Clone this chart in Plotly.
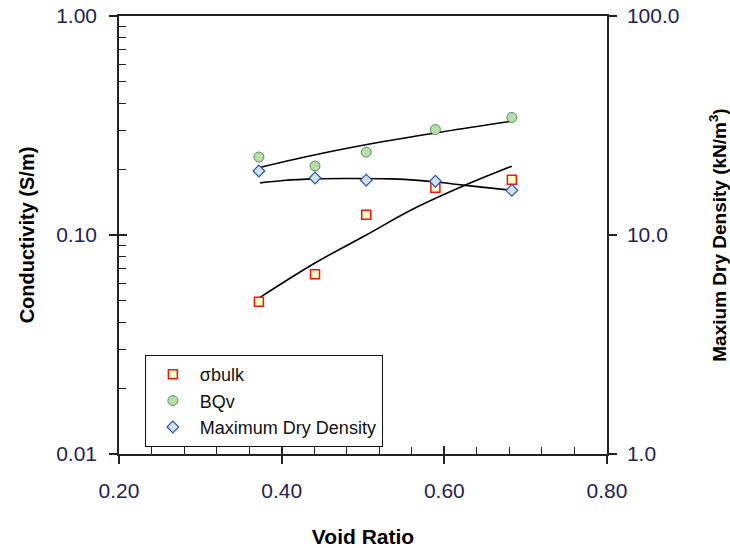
import plotly.graph_objects as go

# ---- data ----
void_ratio = [0.372, 0.441, 0.504, 0.589, 0.683]
sigma_bulk = [0.0496, 0.0662, 0.1237, 0.1644, 0.1788]
bqv = [0.227, 0.2065, 0.239, 0.303, 0.344]
max_dry_density = [19.6, 18.2, 17.8, 17.6, 16.0]

# trend lines
trend_sigma_x = [0.372, 0.441, 0.504, 0.561, 0.626, 0.683]
trend_sigma_y = [0.0515, 0.0745, 0.100, 0.131, 0.169, 0.206]
trend_bqv_x = [0.372, 0.45, 0.52, 0.60, 0.683]
trend_bqv_y = [0.203, 0.236, 0.265, 0.297, 0.331]
trend_mdd_x = [0.3735, 0.402, 0.441, 0.49, 0.532, 0.551, 0.590, 0.626, 0.683]
trend_mdd_y = [17.3, 17.75, 18.05, 18.1, 18.05, 17.95, 17.45, 16.85, 16.0]

x_ticks = [0.2, 0.4, 0.6, 0.8]
x_minor = [0.24, 0.28, 0.32, 0.36, 0.44, 0.48, 0.52, 0.56, 0.64, 0.68, 0.72, 0.76]
y_ticks = [0.01, 0.1, 1.0]
y_minor = [0.02, 0.03, 0.04, 0.05, 0.06, 0.07, 0.08, 0.09,
           0.2, 0.3, 0.4, 0.5, 0.6, 0.7, 0.8, 0.9]
y2_ticks = [1, 10, 100]

FONT = "Liberation Sans, Arial, sans-serif"
TICKCOL = "#23234f"
AXCOL = "#222222"

fig = go.Figure()

# trend lines
for tx, ty, ax in [(trend_sigma_x, trend_sigma_y, "y"),
                   (trend_bqv_x, trend_bqv_y, "y"),
                   (trend_mdd_x, trend_mdd_y, "y2")]:
    fig.add_trace(go.Scatter(x=tx, y=ty, mode="lines", yaxis=ax,
                             line=dict(color="black", width=1.6, shape="spline"),
                             showlegend=False, hoverinfo="skip"))

# markers
fig.add_trace(go.Scatter(x=void_ratio, y=sigma_bulk, mode="markers", name="σbulk",
                         marker=dict(symbol="square", size=9, color="#ffffc4",
                                     line=dict(color="#ff1010", width=1.5))))
fig.add_trace(go.Scatter(x=void_ratio, y=bqv, mode="markers", name="BQv",
                         marker=dict(symbol="circle", size=10, color="#b4e0a8",
                                     line=dict(color="#5b8f5b", width=1))))
fig.add_trace(go.Scatter(x=void_ratio, y=max_dry_density, mode="markers", yaxis="y2",
                         name="Maximum Dry Density",
                         marker=dict(symbol="diamond", size=9, color="#cfe4f8",
                                     line=dict(color="#3050a8", width=1.2))))

# empty helper so the overlay tick axes are drawn
fig.add_trace(go.Scatter(x=[None], y=[None], xaxis="x2", yaxis="y3",
                         showlegend=False, hoverinfo="skip"))

fig.update_layout(
    width=730, height=548,
    margin=dict(l=119, r=123, t=16, b=94),
    paper_bgcolor="white", plot_bgcolor="white",
    font=dict(family=FONT, color=TICKCOL, size=21),
    showlegend=True,
    legend=dict(x=0.053, y=0.226, xanchor="left", yanchor="top",
                bgcolor="white", bordercolor="#111111", borderwidth=1,
                font=dict(family=FONT, size=18, color="#111111"),
                itemwidth=44, tracegroupgap=2),
    xaxis=dict(range=[0.2, 0.8], tickvals=x_ticks, tickformat=".2f",
               showgrid=False, zeroline=False, automargin=False,
               showline=True, linecolor=AXCOL, linewidth=1.5, mirror=True,
               ticks="outside", ticklen=8, tickwidth=1.5, tickcolor=AXCOL,
               ticklabelstandoff=9,
               minor=dict(tickvals=x_minor, ticks="inside", ticklen=7,
                          tickwidth=1.2, tickcolor=AXCOL, showgrid=False),
               title=dict(text="<b>Void Ratio</b>", standoff=28,
                          font=dict(family=FONT, size=21, color="black"))),
    xaxis2=dict(overlaying="x", matches="x", range=[0.2, 0.8], tickvals=x_ticks,
                showticklabels=False, showgrid=False, zeroline=False, showline=False,
                ticks="inside", ticklen=8, tickwidth=1.5, tickcolor=AXCOL,
                anchor="y", automargin=False),
    yaxis=dict(type="log", range=[-2, 0], tickvals=y_ticks, tickformat=".2f",
               showgrid=False, zeroline=False, automargin=False,
               showline=True, linecolor=AXCOL, linewidth=1.5,
               ticks="outside", ticklen=8, tickwidth=1.5, tickcolor=AXCOL,
               ticklabelstandoff=8,
               minor=dict(tickvals=y_minor, ticks="inside", ticklen=7,
                          tickwidth=1.2, tickcolor=AXCOL, showgrid=False),
               title=dict(text="<b>Conductivity (S/m)</b>", standoff=16,
                          font=dict(family=FONT, size=20, color="black"))),
    yaxis3=dict(type="log", range=[-2, 0], overlaying="y", side="left",
                tickvals=y_ticks, showticklabels=False, showgrid=False,
                zeroline=False, showline=False, automargin=False,
                ticks="inside", ticklen=8, tickwidth=1.5, tickcolor=AXCOL,
                anchor="x"),
    yaxis2=dict(type="log", range=[0, 2], overlaying="y", side="right",
                tickvals=y2_ticks, tickformat=".1f", automargin=False,
                showgrid=False, zeroline=False,
                showline=True, linecolor=AXCOL, linewidth=1.5,
                ticks="outside", ticklen=8, tickwidth=1.5, tickcolor=AXCOL,
                ticklabelstandoff=6,
                title=dict(text="<b>Maxium Dry Density (kN/m<sup>3</sup>)</b>", standoff=43,
                           font=dict(family=FONT, size=19, color="black"))),
)

fig.write_html("out.html", config={"displayModeBar": False},
               post_script="document.body.style.margin='0';")
